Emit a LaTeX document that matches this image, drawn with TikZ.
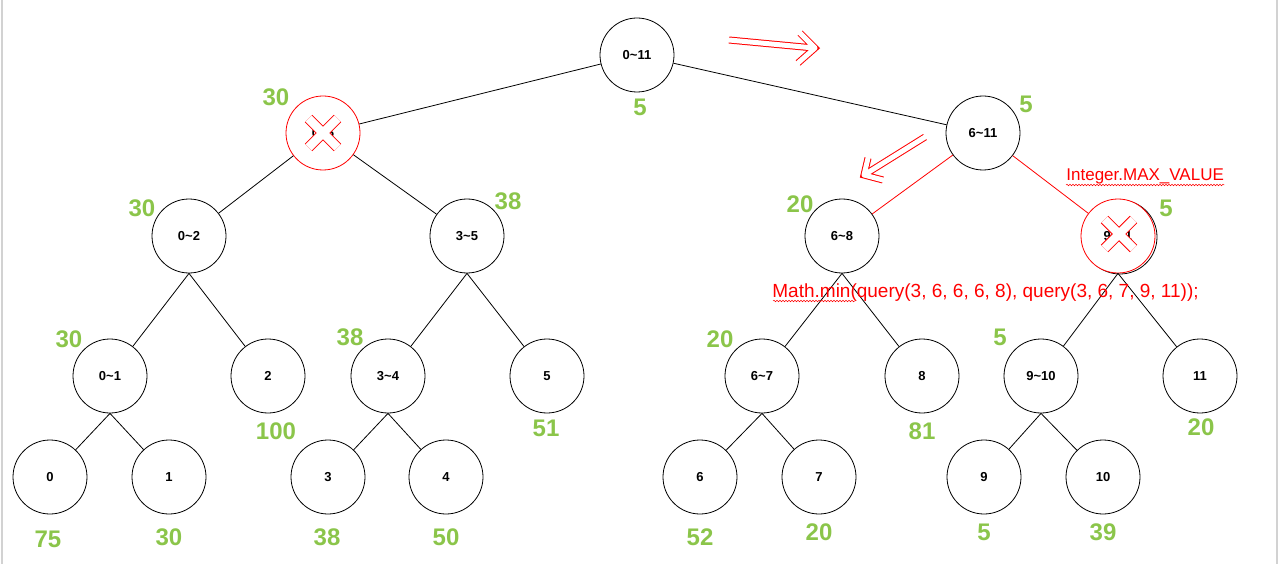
\documentclass[tikz,border=0pt]{standalone}
\usepackage{fontspec}
\setmainfont{Liberation Sans}
\usetikzlibrary{decorations.pathmorphing}

\definecolor{valgreen}{RGB}{139,197,74}
\newcommand{\rng}[2]{#1\textasciitilde#2}

\tikzset{
	seg/.style={circle,draw,fill=white,minimum size=74pt,inner sep=0pt,font=\bfseries\fontsize{13}{13}\selectfont},
	segx/.style={seg,draw=red},
	val/.style={text=valgreen,inner sep=0pt,font=\bfseries\fontsize{24}{24}\selectfont},
	note/.style={text=red,inner sep=0pt,anchor=base west},
	hollow/.style={draw=white,line width=5pt,line cap=round,line join=round,preaction={draw=red,line width=7pt}},
	cross/.style={draw=white,line width=8.5pt,preaction={draw=red,line width=10.5pt}},
	typo/.style={red,line width=.5pt,decorate,decoration={snake,amplitude=.8pt,segment length=3pt}}
}

\begin{document}
\begin{tikzpicture}[x=1pt,y=-1pt,line width=.8pt]
	\useasboundingbox (0,0) rectangle (1280,564);
	\draw[gray!35,line width=2pt] (2,0) -- (2,564);
	\draw[gray!35,line width=2pt] (1277,0) -- (1277,564);
	
	% segment tree
	\node[seg] (s0to11) at (637,55) {\rng{0}{11}};
	\node[segx] (s0to5) at (323,133) {\rng{0}{5}};
	\node[seg] (s6to11) at (983,133) {\rng{6}{11}};
	
	\node[seg] (s0to2) at (189,236) {\rng{0}{2}};
	\node[seg] (s3to5) at (467,236) {\rng{3}{5}};
	\node[seg] (s6to8) at (842,236) {\rng{6}{8}};
	\draw (1120,237) circle (37pt);
	\node[segx] (s9to11) at (1118,236) {\rng{9}{11}};
	
	\node[seg] (s0to1) at (110,376) {\rng{0}{1}};
	\node[seg] (s2) at (268,376) {2};
	\node[seg] (s3to4) at (388,376) {\rng{3}{4}};
	\node[seg] (s5) at (547,376) {5};
	\node[seg] (s6to7) at (762,376) {\rng{6}{7}};
	\node[seg] (s8) at (922,376) {8};
	\node[seg] (s9to10) at (1041,376) {\rng{9}{10}};
	\node[seg] (s11) at (1200,376) {11};
	
	\node[seg] (s0) at (50,477) {0};
	\node[seg] (s1) at (169,477) {1};
	\node[seg] (s3) at (328,477) {3};
	\node[seg] (s4) at (446,477) {4};
	\node[seg] (s6) at (700,477) {6};
	\node[seg] (s7) at (819,477) {7};
	\node[seg] (s9) at (984,477) {9};
	\node[seg] (s10) at (1103,477) {10};
	
	\draw (s0to11) -- (s0to5);
	\draw (s0to11) -- (s6to11);
	\draw (s0to5) -- (s0to2);
	\draw (s0to5) -- (s3to5);
	\draw[red] (s6to11) -- (s6to8);
	\draw[red] (s6to11) -- (s9to11);
	
	\draw (s0to2.south) -- (s0to1);
	\draw (s0to2.south) -- (s2);
	\draw (s3to5.south) -- (s3to4);
	\draw (s3to5.south) -- (s5);
	\draw (s6to8.south) -- (s6to7);
	\draw (s6to8.south) -- (s8);
	\draw (s9to11.south) -- (s9to10);
	\draw (s9to11.south) -- (s11);
	
	\draw (s0to1.south) -- (s0);
	\draw (s0to1.south) -- (s1);
	\draw (s3to4.south) -- (s3);
	\draw (s3to4.south) -- (s4);
	\draw (s6to7.south) -- (s6);
	\draw (s6to7.south) -- (s7);
	\draw (s9to10.south) -- (s9);
	\draw (s9to10.south) -- (s10);
	
	% pruned nodes
	\draw[cross] ([shift={(-14.5,-14.5)}]s0to5.center) -- ([shift={(14.5,14.5)}]s0to5.center)
		([shift={(-14.5,14.5)}]s0to5.center) -- ([shift={(14.5,-14.5)}]s0to5.center);
	\draw[cross] (1104.5,219.5) -- (1133.5,248.5) (1104.5,248.5) -- (1133.5,219.5);
	
	% direction of the query
	\draw[hollow] (729,40) -- (814,48) (800,33) -- (815,48) -- (798,63);
	\draw[hollow] (925,137) -- (864,175) (868,158) -- (864,175) -- (883,180);
	
	% min values
	\node[val] (v0to11) at (640,107) {5};
	\node[val] (v0to5) at (276,97) {30};
	\node[val] (v6to11) at (1026,104) {5};
	\node[val] (v0to2) at (142,208) {30};
	\node[val] (v3to5) at (508,201) {38};
	\node[val] (v6to8) at (800,204) {20};
	\node[val] (v9to11) at (1166,208) {5};
	\node[val] (v0to1) at (69,339) {30};
	\node[val] (v2) at (276,431) {100};
	\node[val] (v3to4) at (350,337) {38};
	\node[val] (v5) at (546,428) {51};
	\node[val] (v6to7) at (720,339) {20};
	\node[val] (v8) at (922,431) {81};
	\node[val] (v9to10) at (1000,337) {5};
	\node[val] (v11) at (1201,427) {20};
	\node[val] (v0) at (48,539) {75};
	\node[val] (v1) at (169,537) {30};
	\node[val] (v3) at (327,537) {38};
	\node[val] (v4) at (446,537) {50};
	\node[val] (v6) at (700,537) {52};
	\node[val] (v7) at (819,532) {20};
	\node[val] (v9) at (984,532) {5};
	\node[val] (v10) at (1103,532) {39};
	
	% code notes
	\node[note,font=\fontsize{17}{17}\selectfont] (maxval) at (1066,181) {Integer.MAX\_VALUE};
	\draw[typo] (maxval.base west) ++(0,4) -- ([yshift=-4pt]maxval.base east);
	\node[note,font=\fontsize{19}{19}\selectfont] (mincall) at (772,297) {Math.min(query(3, 6, 6, 6, 8), query(3, 6, 7, 9, 11));};
	\draw[typo] (773,301) -- (855,301);
\end{tikzpicture}
\end{document}
